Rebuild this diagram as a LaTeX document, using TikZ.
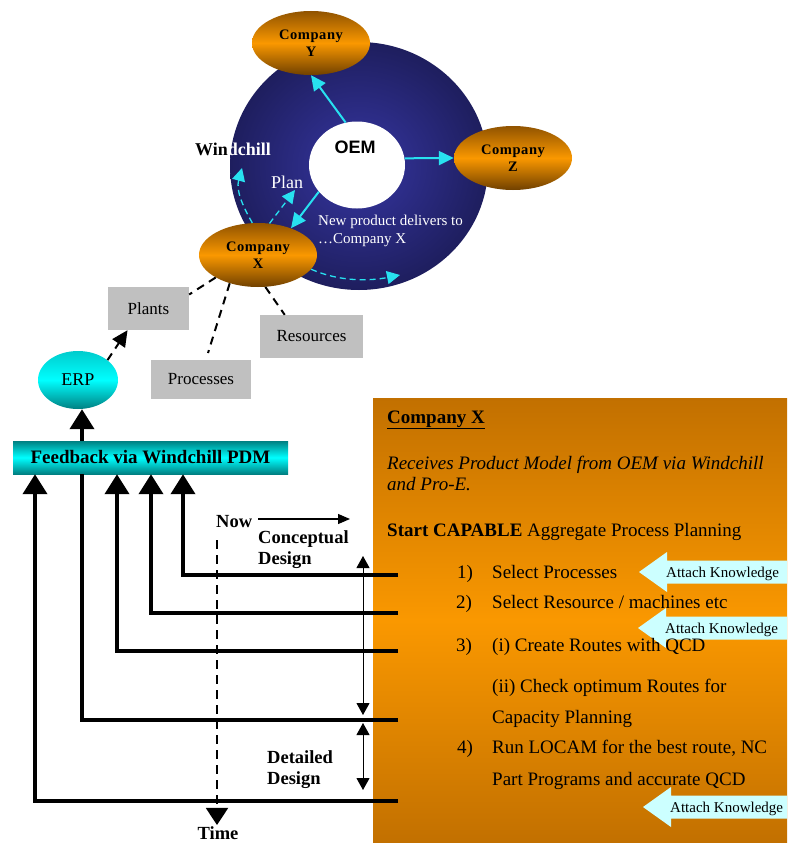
\documentclass[tikz,border=0pt]{standalone}
\usepackage{fontspec}
\setmainfont{Liberation Serif}
\newfontfamily\oemfont{Liberation Sans}
\usetikzlibrary{shapes.geometric,arrows.meta,calc}

\definecolor{discedge}{RGB}{30,30,94}
\definecolor{disccentre}{RGB}{54,54,162}
\definecolor{ambertop}{RGB}{194,112,0}
\definecolor{ambermid}{RGB}{250,152,0}
\definecolor{umber}{RGB}{112,64,0}
\definecolor{tealdeep}{RGB}{0,128,130}
\definecolor{aqua}{RGB}{0,255,255}
\definecolor{paleaqua}{RGB}{204,255,255}
\definecolor{boxgrey}{RGB}{192,192,192}
\definecolor{flow}{RGB}{40,225,240}

\tikzset{
  lbl/.style={inner sep=0pt, anchor=base west},
  company/.style={ellipse, minimum width=118pt, minimum height=64pt, inner sep=0pt,
    top color=umber!60!ambertop, bottom color=umber, middle color=ambermid,
    align=center, font=\fontsize{14.5}{17}\selectfont\bfseries\addfontfeature{LetterSpace=4}},
  greybox/.style={fill=boxgrey, font=\fontsize{17}{17}\selectfont},
  flowarrow/.style={draw=flow, line width=2pt, -{Triangle[length=15pt,width=14pt]}},
  flowdash/.style={draw=flow, line width=1.3pt, dash pattern=on 6pt off 4pt, -{Triangle[length=13pt,width=13pt]}},
  linkdash/.style={line width=2pt, dash pattern=on 8pt off 6pt},
  feed/.style={line width=4pt, -{Triangle[length=20pt,width=24pt]}},
  phase/.style={line width=1pt, {Triangle[length=12pt,width=13pt]}-{Triangle[length=12pt,width=13pt]}},
  boxtext/.style={lbl, font=\fontsize{19}{23}\selectfont},
  bigbold/.style={font=\fontsize{18.5}{21}\selectfont\bfseries}
}

\begin{document}
\begin{tikzpicture}[x=1pt,y=-1pt]
\useasboundingbox (0,0) rectangle (787,843);

% OEM and the companies round it
\node[ellipse, minimum width=258pt, minimum height=248pt, inner color=disccentre, outer color=discedge] (disc) at (359,166) {};
\node[ellipse, fill=white, minimum width=96pt, minimum height=87pt] (oem) at (357,165) {};
\node[font=\oemfont\bfseries\fontsize{18}{18}\selectfont] (oemtxt) at (355,147) {OEM};
\node[company] (cy) at (311,43) {Company\\Y};
\node[company] (cz) at (513,158) {Company\\Z};
\node[company] (cx) at (258,255) {Company\\X};
\draw[flowarrow] (oem.105) -- (cy.south);
\draw[flowarrow] (oem.8) -- (cz.west);
\draw[flowarrow] (oem.215) -- (cx.39);
\coordinate (windtip) at (242,168);
\coordinate (plantip) at (295,190);
\coordinate (delivtip) at (400,275);
\draw[flowdash] (cx.100) .. controls (242,205) and (236,190) .. (windtip);
\draw[flowdash] (cx.70) -- (plantip);
\draw[flowdash] (cx.-15) .. controls (340,282) and (370,281) .. (delivtip);
\node[lbl, font=\fontsize{18}{18}\selectfont\bfseries] (wind) at (195,155) {Win\textcolor{white}{dchill}};
\node[lbl, text=white, font=\fontsize{18}{18}\selectfont] (plan) at (271,188) {Plan};
\node[lbl, text=white, font=\fontsize{15}{15}\selectfont] (deliv1) at (318,225) {New product delivers to};
\node[lbl, text=white, font=\fontsize{15}{15}\selectfont] (deliv2) at (318,243) {…Company X};

% what company X holds
\node[greybox, minimum width=81pt, minimum height=43pt] (plants) at (148.5,308.5) {Plants};
\node[greybox, minimum width=100pt, minimum height=39pt] (processes) at (201,379.5) {Processes};
\node[greybox, minimum width=103pt, minimum height=43pt] (resources) at (311.5,336.5) {Resources};
\coordinate (procend) at (208,353);
\draw[linkdash] (cx.208) -- (plants.19);
\draw[linkdash] (cx.225) -- (procend);
\draw[linkdash] (cx.283) -- (resources.141);
\node[ellipse, minimum width=80pt, minimum height=58pt, top color=tealdeep!40!aqua, bottom color=tealdeep, middle color=aqua,
  font=\fontsize{18}{18}\selectfont] (erp) at (78,380) {ERP};
\draw[linkdash, -{Triangle[length=16pt,width=15pt]}] (erp.34) -- (plants.226);
\node[minimum width=275pt, minimum height=33pt, top color=tealdeep, bottom color=tealdeep, middle color=aqua,
  font=\fontsize{19}{19}\selectfont\bfseries] (fb) at (150.5,457.5) {Feedback via Windchill PDM};
\draw[feed] (82,0 |- fb.north) -- (82,0 |- erp.south);

% process planning box
\node[anchor=north west, minimum width=414pt, minimum height=445pt, inner sep=0pt,
  top color=ambertop, bottom color=ambertop, middle color=ambermid] (planbox) at (373,398) {};
\foreach \ky/\kx [count=\i] in {572/639, 628/638, 807/643} {
  \fill[paleaqua] (787,\ky-11.5) -- (\kx+28,\ky-11.5) -- (\kx+28,\ky-20) -- (\kx,\ky)
    -- (\kx+28,\ky+20) -- (\kx+28,\ky+11.5) -- (787,\ky+11.5) -- cycle;
  \node[lbl, font=\fontsize{15}{15}\selectfont] (know\i) at (\kx+27,\ky+5) {Attach Knowledge};
}
\node[boxtext] (title) at (387,423) {\textbf{\underline{Company X}}};
\node[boxtext] (recv1) at (387,469) {\textit{Receives Product Model from OEM via Windchill}};
\node[boxtext] (recv2) at (387,490) {\textit{and Pro-E.}};
\node[boxtext] (start) at (387,536) {\textbf{Start CAPABLE} Aggregate Process Planning};
\node[boxtext] (n1) at (457,578) {1)};
\node[boxtext] (s1) at (492,578) {Select Processes};
\node[boxtext] (n2) at (456,608) {2)};
\node[boxtext] (s2) at (492,608) {Select Resource / machines etc};
\node[boxtext] (n3) at (456,651) {3)};
\node[boxtext] (s3) at (492,651) {(i) Create Routes with QCD};
\node[boxtext] (s3b) at (492,692) {(ii) Check optimum Routes for};
\node[boxtext] (s3c) at (492,723) {Capacity Planning};
\node[boxtext] (n4) at (457,753) {4)};
\node[boxtext] (s4) at (492,753) {Run LOCAM for the best route, NC};
\node[boxtext] (s4b) at (492,785) {Part Programs and accurate QCD};

% feedback lines
\coordinate (p1) at (398,575);
\coordinate (p2) at (398,613);
\coordinate (p3) at (398,651);
\coordinate (p4) at (398,720);
\coordinate (p5) at (398,801);
\draw[feed] (p1) -| (183,0 |- fb.south);
\draw[feed] (p2) -| (151,0 |- fb.south);
\draw[feed] (p3) -| (117,0 |- fb.south);
\draw[line width=4pt] (p4) -| (82,0 |- fb.south);
\draw[feed] (p5) -| (35,0 |- fb.south);

% time axis
\node[lbl, bigbold] (now) at (216,527) {Now};
\coordinate (nowend) at (350,519);
\draw[line width=1.2pt, -{Triangle[length=12pt,width=10pt]}] ([xshift=6pt]now.east |- nowend) -- (nowend);
\coordinate (tstart) at (217,540);
\node[bigbold, inner sep=1pt, anchor=base] (time) at (218,839) {Time};
\draw[line width=2pt, dash pattern=on 9pt off 6pt, -{Triangle[length=17pt,width=22pt]}] (tstart) -- (tstart |- time.north);
\node[bigbold, anchor=north west, align=left, inner sep=0pt] (concept) at (258,530) {Conceptual\\Design};
\node[bigbold, anchor=north west, align=left, inner sep=0pt] (detail) at (267,750) {Detailed\\Design};
\coordinate (cd1) at (363,556);
\coordinate (cd2) at (363,715);
\coordinate (dd1) at (363,723);
\coordinate (dd2) at (363,790);
\draw[phase] (cd1) -- (cd2);
\draw[phase] (dd1) -- (dd2);
\end{tikzpicture}
\end{document}
